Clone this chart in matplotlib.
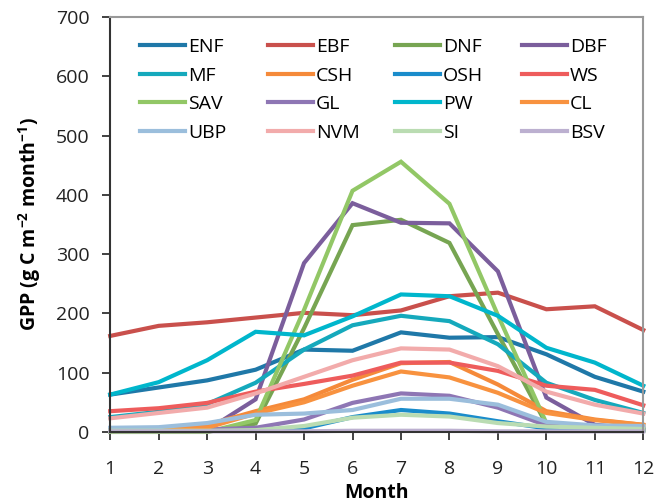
import numpy as np
import matplotlib
matplotlib.use("Agg")
import matplotlib.pyplot as plt

plt.rcParams["font.family"] = ["Open Sans", "DejaVu Sans"]
plt.rcParams["mathtext.fontset"] = "custom"
plt.rcParams["mathtext.rm"] = "Open Sans"
plt.rcParams["mathtext.bf"] = "Open Sans:bold"

# Data
months = np.arange(1, 13)

ENF = [63, 75, 87, 105, 139, 137, 168, 159, 160, 131, 93, 68]
EBF = [162, 179, 185, 193, 201, 197, 205, 229, 235, 207, 212, 172]
DNF = [0, 0, 0, 14, 175, 349, 358, 319, 165, 13, 4, 2]
DBF = [0, 0, 3, 55, 285, 386, 353, 352, 271, 58, 12, 5]
MF = [25, 34, 47, 83, 139, 180, 196, 187, 148, 83, 54, 32]
CSH = [3, 5, 12, 35, 55, 88, 116, 118, 80, 35, 21, 12]
OSH = [2, 3, 3, 3, 6, 25, 37, 31, 18, 6, 4, 3]
WS = [35, 40, 49, 68, 81, 95, 117, 117, 103, 78, 71, 45]
SAV = [0, 0, 0, 20, 206, 407, 456, 385, 197, 15, 6, 3]
GL = [3, 3, 4, 7, 21, 49, 65, 61, 41, 11, 8, 6]
PW = [63, 84, 121, 169, 163, 195, 232, 229, 196, 142, 117, 78]
CL = [2, 4, 7, 31, 50, 78, 102, 92, 66, 32, 20, 12]
UBP = [7, 8, 15, 29, 31, 37, 56, 56, 46, 17, 11, 10]
NVM = [23, 32, 41, 65, 93, 121, 141, 139, 111, 68, 46, 31]
SI = [2, 2, 2, 3, 10, 24, 29, 26, 15, 9, 7, 5]
BSV = [1, 1, 1, 1, 1, 2, 2, 2, 1, 1, 1, 1]

names = ["ENF", "EBF", "DNF", "DBF", "MF", "CSH", "OSH", "WS",
         "SAV", "GL", "PW", "CL", "UBP", "NVM", "SI", "BSV"]
series = [ENF, EBF, DNF, DBF, MF, CSH, OSH, WS,
          SAV, GL, PW, CL, UBP, NVM, SI, BSV]
colors = ["#1F78A8", "#C9504C", "#77A552", "#7B5E9C",
          "#15A9BC", "#F58A3A", "#1A8CCB", "#EE5C5C",
          "#92C766", "#8E76B4", "#00B6CC", "#F8923F",
          "#9BBEDC", "#F2ABAB", "#BADCB2", "#BCB0D0"]

fig = plt.figure(figsize=(6.68, 5.04), dpi=100)
ax = fig.add_axes([0.165, 0.143, 0.798, 0.823])

lines = []
for name, vals, col in zip(names, series, colors):
    ln, = ax.plot(months, vals, color=col, linewidth=3, label=name,
                  solid_joinstyle="miter", clip_on=False)
    lines.append(ln)

ax.set_xlim(1, 12)
ax.set_ylim(0, 700)
ax.set_xticks(months)
ax.set_yticks(np.arange(0, 701, 100))
ax.tick_params(axis="both", labelsize=14, direction="out", length=6,
               width=1.3, color="#333333", labelcolor="#222222")
ax.tick_params(axis="y", pad=9)
ax.tick_params(axis="x", pad=14)

for side in ["left", "bottom"]:
    ax.spines[side].set_color("#333333")
    ax.spines[side].set_linewidth(1.5)
for side in ["top", "right"]:
    ax.spines[side].set_color("#999999")
    ax.spines[side].set_linewidth(1.5)

ax.set_xlabel("Month", fontsize=14, fontweight="bold", labelpad=4)
ax.set_ylabel("GPP (g C m$^{\\mathbf{-2}}$ month$^{\\mathbf{-1}}$)",
              fontsize=14, fontweight="bold", labelpad=9)

# legend: four single-column blocks placed side by side
col_x = [140, 268, 395, 522]
x0, x1 = 110, 643
for c in range(4):
    idx = [r * 4 + c for r in range(4)]
    leg = ax.legend([lines[i] for i in idx], [names[i] for i in idx],
                    ncol=1, loc="upper left",
                    bbox_to_anchor=((col_x[c] - x0) / (x1 - x0), 0.950),
                    frameon=False, fontsize=14, handlelength=2.3,
                    handletextpad=0.15, labelspacing=0.55,
                    borderpad=0, borderaxespad=0)
    if c < 3:
        ax.add_artist(leg)

fig.savefig("out.png", dpi=100)
